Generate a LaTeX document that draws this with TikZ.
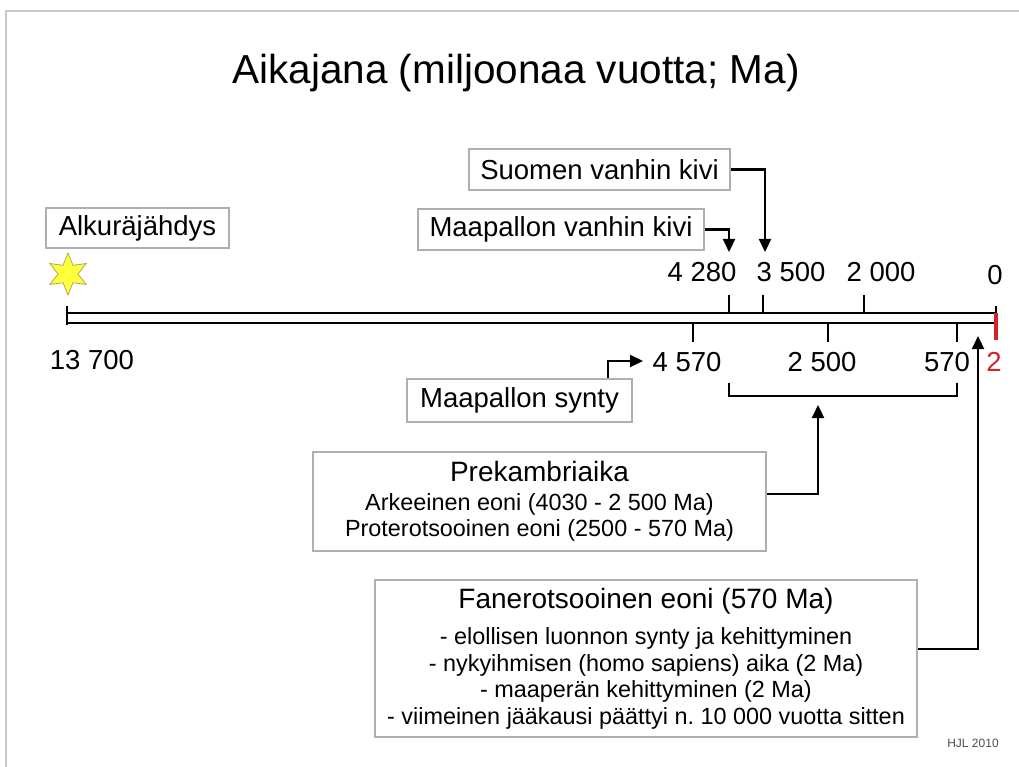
\documentclass[tikz,border=0pt]{standalone}
\usepackage{fontspec}
\setmainfont{Liberation Sans}
\usetikzlibrary{arrows.meta,shapes.geometric}
\definecolor{boxgray}{RGB}{175,175,175}
\definecolor{framegray}{RGB}{200,200,200}
\definecolor{tickred}{RGB}{210,35,40}
\definecolor{staryellow}{RGB}{255,255,60}
\definecolor{staredge}{RGB}{170,170,90}

\begin{document}
\begin{tikzpicture}[x=1pt, y=-1pt,
  labelbox/.style={draw=boxgray, line width=1.2pt, inner sep=0pt,
    font=\fontsize{27.5}{33}\selectfont},
  infobox/.style={draw=boxgray, line width=1.2pt, inner sep=0pt, align=center,
    font=\fontsize{23.4}{26.5}\selectfont},
  num/.style={font=\fontsize{27.5}{33}\selectfont, inner sep=0pt},
  tl/.style={line width=2.2pt},
  pointer/.style={line width=2.2pt, -{Triangle[length=13pt,width=12pt]}},
]
  \useasboundingbox (0,0) rectangle (1019,767);

  % -- Frame and title --
  \draw[framegray, line width=1.5pt] (6,767) -- (6,11) -- (1019,11);
  \node[font=\fontsize{40.5}{44}\selectfont] (title) at (516,73) {Aikajana (miljoonaa vuotta; Ma)};

  % -- Main timeline --
  \draw[tl] (67,313) -- (996,313);
  \draw[tl] (67,323) -- (996,323);
  \draw[tl] (67,306) -- (67,325);

  % -- Ticks above and below --
  \foreach \tx in {729,763,864}
    \draw[tl] (\tx,295) -- (\tx,313);
  \foreach \tx in {693,828,957}
    \draw[tl] (\tx,323) -- (\tx,342);
  \draw[tl] (996,306) -- (996,313);
  \draw[tickred, line width=4pt] (996,313) -- (996,340);

  % -- Year labels --
  \node[num] (y4280) at (702,272) {4 280};
  \node[num] (y3500) at (791,272) {3 500};
  \node[num] (y2000) at (881,272) {2 000};
  \node[num] (y0) at (995,275) {0};
  \node[num] (y13700) at (92,360) {13 700};
  \node[num] (y4570) at (687,362) {4 570};
  \node[num] (y2500) at (822,362) {2 500};
  \node[num] (y570) at (947,362) {570};
  \node[num, text=tickred] (y2) at (994,362) {2};

  % -- Big bang --
  \node[labelbox, minimum width=183pt, minimum height=40pt] (bigbang) at (137.5,228) {Alkuräjähdys};
  \node[star, star points=6, star point ratio=2.1, minimum size=42pt, inner sep=0pt,
    fill=staryellow, draw=staredge, line width=0.8pt] (bang) at (68,274) {};

  % -- Event boxes --
  \node[labelbox, minimum width=261pt, minimum height=41pt] (suomen) at (599.5,169.5) {Suomen vanhin kivi};
  \node[labelbox, minimum width=286pt, minimum height=41pt] (mvk) at (561,229.5) {Maapallon vanhin kivi};
  \node[labelbox, minimum width=225pt, minimum height=43pt] (synty) at (519.5,400.5) {Maapallon synty};

  \node[infobox, minimum width=453pt, minimum height=99pt] (prek) at (539.5,501.5)
    {{\fontsize{28}{30}\selectfont Prekambriaika}\\[2pt]
     Arkeeinen eoni (4030 - 2 500 Ma)\\
     Proterotsooinen eoni (2500 - 570 Ma)};

  \node[infobox, minimum width=542pt, minimum height=157pt] (fan) at (646,658.5)
    {{\fontsize{28}{30}\selectfont Fanerotsooinen eoni (570 Ma)}\\[10pt]
     - elollisen luonnon synty ja kehittyminen\\
     - nykyihmisen (homo sapiens) aika (2 Ma)\\
     - maaperän kehittyminen (2 Ma)\\
     - viimeinen jääkausi päättyi n.\ 10 000 vuotta sitten};

  % -- Pointer ends --
  \coordinate (p4280) at (729,252);
  \coordinate (p3500) at (765,252);
  \coordinate (p4570) at (643,361);
  \coordinate (pprek) at (818,405);
  \coordinate (pfan) at (978,336);

  % -- Pointers --
  \draw[pointer] (suomen.east) -| (p3500);
  \draw[pointer] (mvk.east) -| (p4280);
  \draw[pointer] ([xshift=-25pt]synty.north east) |- (p4570);
  \draw[pointer] ([yshift=7.5pt]prek.east) -| (pprek);
  \draw[pointer] ([yshift=9.5pt]fan.east) -| (pfan);

  % -- Precambrian bracket --
  \draw[tl] (729,383) |- (957,396) -- (957,383);

  \node[font=\fontsize{12}{14}\selectfont, text=black!70] (sign) at (973,743) {HJL 2010};

\end{tikzpicture}
\end{document}
